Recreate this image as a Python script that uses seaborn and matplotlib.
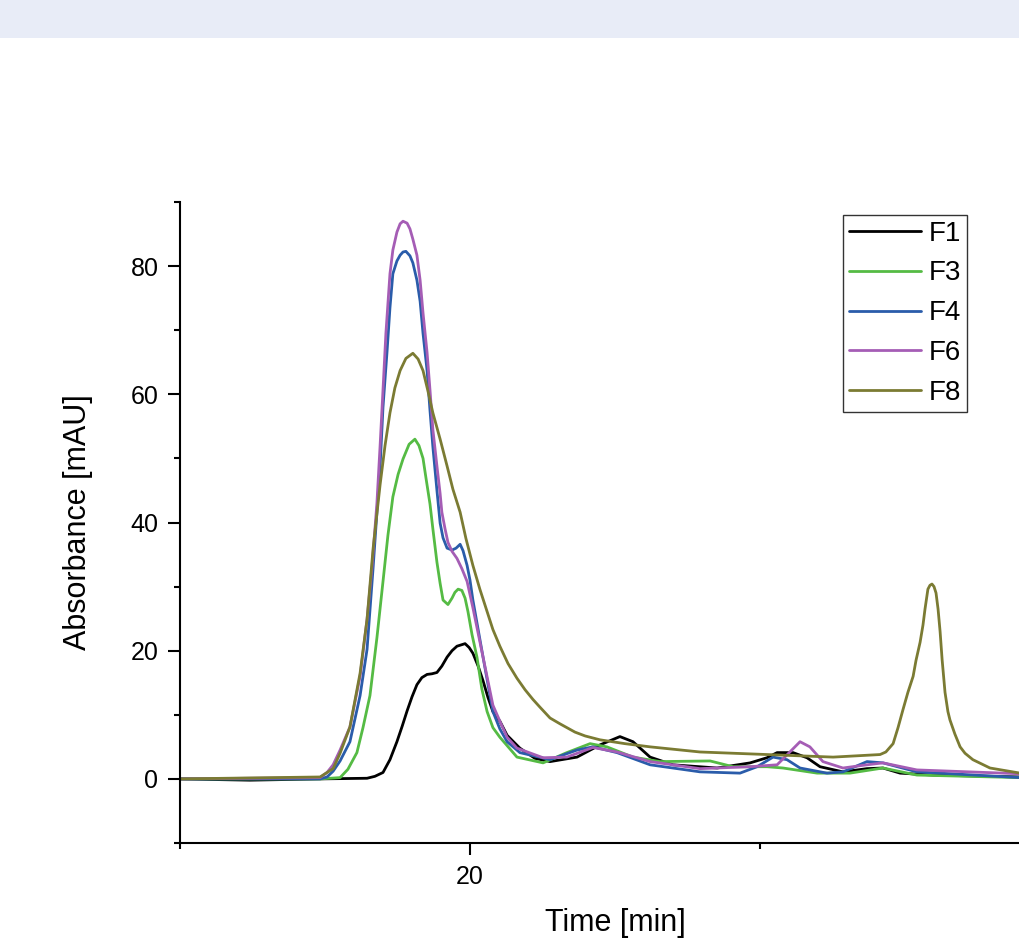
import numpy as np
import pandas as pd
import matplotlib
matplotlib.use("Agg")
import matplotlib.pyplot as plt
from matplotlib.ticker import MultipleLocator
from matplotlib.patches import Rectangle
from matplotlib.lines import Line2D
import seaborn as sns

series_names = ["F1", "F3", "F4", "F6", "F8"]
series_colors = ["#000000", "#55BB44", "#2A5CAA", "#A55DB5", "#7B7B33"]

t_f1 = [10.00, 12.41, 14.83, 16.45, 16.72, 17.00, 17.24, 17.48, 17.66, 17.83, 18.00, 18.17,
        18.34, 18.52, 18.69, 18.86, 19.03, 19.21, 19.38, 19.55, 19.69, 19.83, 19.97, 20.10,
        20.28, 20.45, 20.62, 20.79, 21.03, 21.28, 21.72, 22.24, 22.76, 23.69, 24.48, 25.17,
        25.62, 26.21, 27.00, 28.52, 29.66, 30.24, 30.59, 31.14, 31.62, 32.07, 32.86, 33.69,
        34.24, 34.83, 35.97, 38.97, 40.00]
a_f1 = [0.0, -0.2, 0.0, 0.1, 0.4, 1.0, 3.0, 5.8, 8.2, 10.6, 12.8, 14.7,
        15.8, 16.3, 16.4, 16.6, 17.6, 19.0, 20.0, 20.7, 20.9, 21.1, 20.5, 19.6,
        17.6, 15.3, 12.7, 10.5, 9.0, 6.8, 4.8, 3.2, 2.7, 3.4, 5.3, 6.6,
        5.8, 3.4, 2.2, 1.7, 2.5, 3.3, 4.1, 4.1, 3.3, 1.9, 1.1, 1.6,
        1.7, 0.9, 0.6, 0.3, 0.2]

t_f3 = [10.00, 14.83, 15.52, 15.79, 16.10, 16.31, 16.55, 16.79, 17.00, 17.17, 17.34, 17.52,
        17.69, 17.90, 18.10, 18.24, 18.38, 18.48, 18.62, 18.72, 18.86, 18.97, 19.07, 19.24,
        19.38, 19.48, 19.59, 19.72, 19.83, 19.93, 20.07, 20.24, 20.41, 20.59, 20.79, 21.03,
        21.62, 22.52, 23.34, 24.14, 24.72, 25.62, 26.55, 28.28, 29.07, 30.24, 30.79, 31.97,
        33.10, 34.24, 35.41, 38.97, 40.00]
a_f3 = [0.0, 0.0, 0.2, 1.5, 4.1, 8.0, 13.0, 22.0, 30.8, 38.0, 44.0, 47.5,
        49.9, 52.2, 53.0, 52.0, 50.0, 47.0, 42.9, 39.0, 33.8, 30.5, 27.9, 27.2,
        28.2, 29.1, 29.6, 29.4, 28.2, 26.1, 22.5, 19.0, 14.0, 10.5, 8.0, 6.5,
        3.4, 2.5, 4.1, 5.5, 5.0, 3.4, 2.7, 2.8, 1.9, 1.9, 1.7, 0.9,
        0.9, 1.7, 0.6, 0.2, 0.2]

t_f4 = [10.00, 14.83, 15.07, 15.28, 15.52, 15.86, 16.21, 16.45, 16.66, 16.90, 17.00, 17.14,
        17.24, 17.34, 17.48, 17.59, 17.69, 17.79, 17.93, 18.03, 18.17, 18.28, 18.38, 18.52,
        18.62, 18.72, 18.86, 18.97, 19.07, 19.21, 19.38, 19.52, 19.66, 19.76, 19.90, 20.00,
        20.10, 20.45, 20.79, 21.03, 21.28, 21.72, 22.76, 23.69, 24.24, 25.07, 26.21, 27.93,
        29.31, 29.90, 30.45, 30.93, 31.38, 32.31, 32.86, 33.69, 34.24, 35.41, 38.97, 40.00]
a_f4 = [0.0, 0.0, 0.3, 1.2, 2.8, 5.8, 13.0, 20.2, 33.0, 48.8, 58.0, 66.7,
        73.5, 78.8, 80.8, 81.7, 82.2, 82.3, 81.6, 80.5, 77.8, 74.5, 69.5, 63.7,
        57.5, 51.8, 45.0, 39.9, 37.6, 36.0, 35.7, 36.0, 36.6, 35.6, 33.3, 31.0,
        27.9, 19.0, 10.5, 7.8, 5.8, 4.1, 3.0, 4.5, 5.0, 4.1, 2.2, 1.1,
        0.9, 1.9, 3.4, 3.0, 1.7, 0.9, 1.1, 2.7, 2.5, 1.1, 0.2, 0.2]

t_f6 = [10.00, 14.83, 15.07, 15.28, 15.52, 15.86, 16.21, 16.45, 16.62, 16.79, 16.90, 17.00,
        17.10, 17.24, 17.34, 17.48, 17.59, 17.69, 17.83, 17.93, 18.03, 18.17, 18.28, 18.38,
        18.52, 18.62, 18.72, 18.86, 18.97, 19.03, 19.14, 19.24, 19.38, 19.55, 19.72, 19.90,
        20.10, 20.45, 20.79, 21.03, 21.28, 21.62, 22.52, 23.34, 24.24, 25.07, 26.21, 27.93,
        29.66, 30.59, 31.03, 31.38, 31.72, 32.17, 32.86, 33.69, 34.24, 35.41, 38.97, 40.00]
a_f6 = [0.0, 0.2, 1.0, 2.2, 4.5, 8.1, 16.0, 24.9, 33.0, 43.0, 52.0, 60.7,
        69.5, 78.8, 82.5, 85.3, 86.6, 87.0, 86.7, 85.8, 84.2, 81.7, 77.8, 72.7,
        66.5, 60.7, 54.5, 48.8, 44.5, 41.6, 39.0, 36.9, 35.5, 34.4, 32.8, 30.8,
        26.7, 19.0, 11.5, 9.0, 6.5, 4.8, 3.3, 3.4, 4.9, 4.2, 2.7, 1.6,
        1.9, 2.2, 4.2, 5.8, 5.0, 2.7, 1.7, 2.2, 2.5, 1.4, 0.8, 0.7]

t_f8 = [10.00, 14.83, 15.28, 15.52, 15.86, 16.21, 16.45, 16.66, 16.90, 17.07, 17.24, 17.41,
        17.59, 17.79, 18.03, 18.21, 18.38, 18.55, 18.72, 18.97, 19.21, 19.41, 19.66, 19.86,
        20.10, 20.34, 20.59, 20.79, 21.03, 21.31, 21.62, 21.90, 22.17, 22.41, 22.76, 23.10,
        23.62, 23.97, 24.48, 25.34, 26.21, 27.93, 30.24, 32.52, 34.14, 34.34, 34.59, 34.76,
        34.93, 35.10, 35.28, 35.38, 35.52, 35.62, 35.69, 35.79, 35.86, 35.93, 36.00, 36.07,
        36.14, 36.21, 36.28, 36.38, 36.48, 36.55, 36.72, 36.90, 37.07, 37.34, 37.93, 38.97,
        40.00]
a_f8 = [0.0, 0.3, 1.6, 4.0, 8.1, 16.5, 24.9, 36.0, 45.9, 52.0, 57.1, 61.0,
        63.7, 65.6, 66.4, 65.5, 63.7, 60.5, 57.1, 53.0, 48.8, 45.2, 41.6, 37.5,
        33.3, 29.6, 26.1, 23.3, 20.7, 18.0, 15.7, 13.9, 12.4, 11.2, 9.5, 8.6,
        7.3, 6.7, 6.1, 5.5, 5.0, 4.2, 3.8, 3.4, 3.8, 4.2, 5.5, 8.0,
        10.8, 13.5, 16.0, 18.5, 21.3, 24.0, 26.5, 29.6, 30.2, 30.4, 30.0, 29.0,
        26.5, 23.0, 18.6, 13.5, 10.5, 9.2, 7.0, 5.0, 4.0, 3.0, 1.7, 0.9,
        0.7]

x_major_labels = {20: "20"}
y_major_labels = {0: "0", 20: "20", 40: "40", 60: "60", 80: "80"}

frames = []
for name, t, a in zip(series_names,
                      [t_f1, t_f3, t_f4, t_f6, t_f8],
                      [a_f1, a_f3, a_f4, a_f6, a_f8]):
    frames.append(pd.DataFrame({"Time": t, "Absorbance": a, "Sample": name}))
df = pd.concat(frames, ignore_index=True)

sns.set_theme(style="ticks")
plt.rcParams['font.family'] = ['Liberation Sans', 'DejaVu Sans']
plt.rcParams['text.color'] = 'black'

W, H = 1020, 940
fig = plt.figure(figsize=(W / 100, H / 100), dpi=100)
fig.patch.set_facecolor("white")
fig.add_artist(Rectangle((0, 1 - 38 / H), 1, 38 / H, transform=fig.transFigure,
                         facecolor="#E8ECF7", edgecolor="none", zorder=0))

ax = fig.add_axes([180 / W, 97 / H, 870 / W, 641 / H])
palette = dict(zip(series_names, series_colors))
sns.lineplot(data=df, x="Time", y="Absorbance", hue="Sample", hue_order=series_names,
             palette=palette, estimator=None, sort=False, linewidth=2.0,
             solid_joinstyle="round", legend=False, ax=ax)

ax.set_xlim(10, 40)
ax.set_ylim(-10, 90)
ax.xaxis.set_major_locator(MultipleLocator(20))
ax.xaxis.set_minor_locator(MultipleLocator(10))
ax.yaxis.set_major_locator(MultipleLocator(20))
ax.yaxis.set_minor_locator(MultipleLocator(10))
ax.set_xticklabels([x_major_labels.get(int(round(v)), "") for v in ax.get_xticks()])
ax.set_yticklabels([y_major_labels.get(int(round(v)), "") for v in ax.get_yticks()])

for s in ["top", "right"]:
    ax.spines[s].set_visible(False)
for s in ["left", "bottom"]:
    ax.spines[s].set_color("black")
    ax.spines[s].set_linewidth(1.5)

ax.tick_params(which="major", direction="out", length=8.5, width=1.5, color="black",
               labelsize=18, pad=7, labelcolor="black")
ax.tick_params(which="minor", direction="out", length=4.5, width=1.5, color="black")

ax.set_xlabel("Time [min]", fontsize=22, labelpad=14, color="black")
ax.set_ylabel("Absorbance [mAU]", fontsize=22, labelpad=27, color="black")

handles = [Line2D([], [], color=c, linewidth=2.0) for c in series_colors]
leg = ax.legend(handles, series_names, loc="upper left",
                bbox_to_anchor=((843 - 180) / 870, (843 - 215) / 641),
                borderaxespad=0, fontsize=20, frameon=True, fancybox=False,
                framealpha=1, edgecolor="#333333", borderpad=0.2,
                labelspacing=0.5, handlelength=2.6, handletextpad=0.3,
                labelcolor="black")
leg.get_frame().set_linewidth(1.0)

fig.savefig("out.png", dpi=100)
